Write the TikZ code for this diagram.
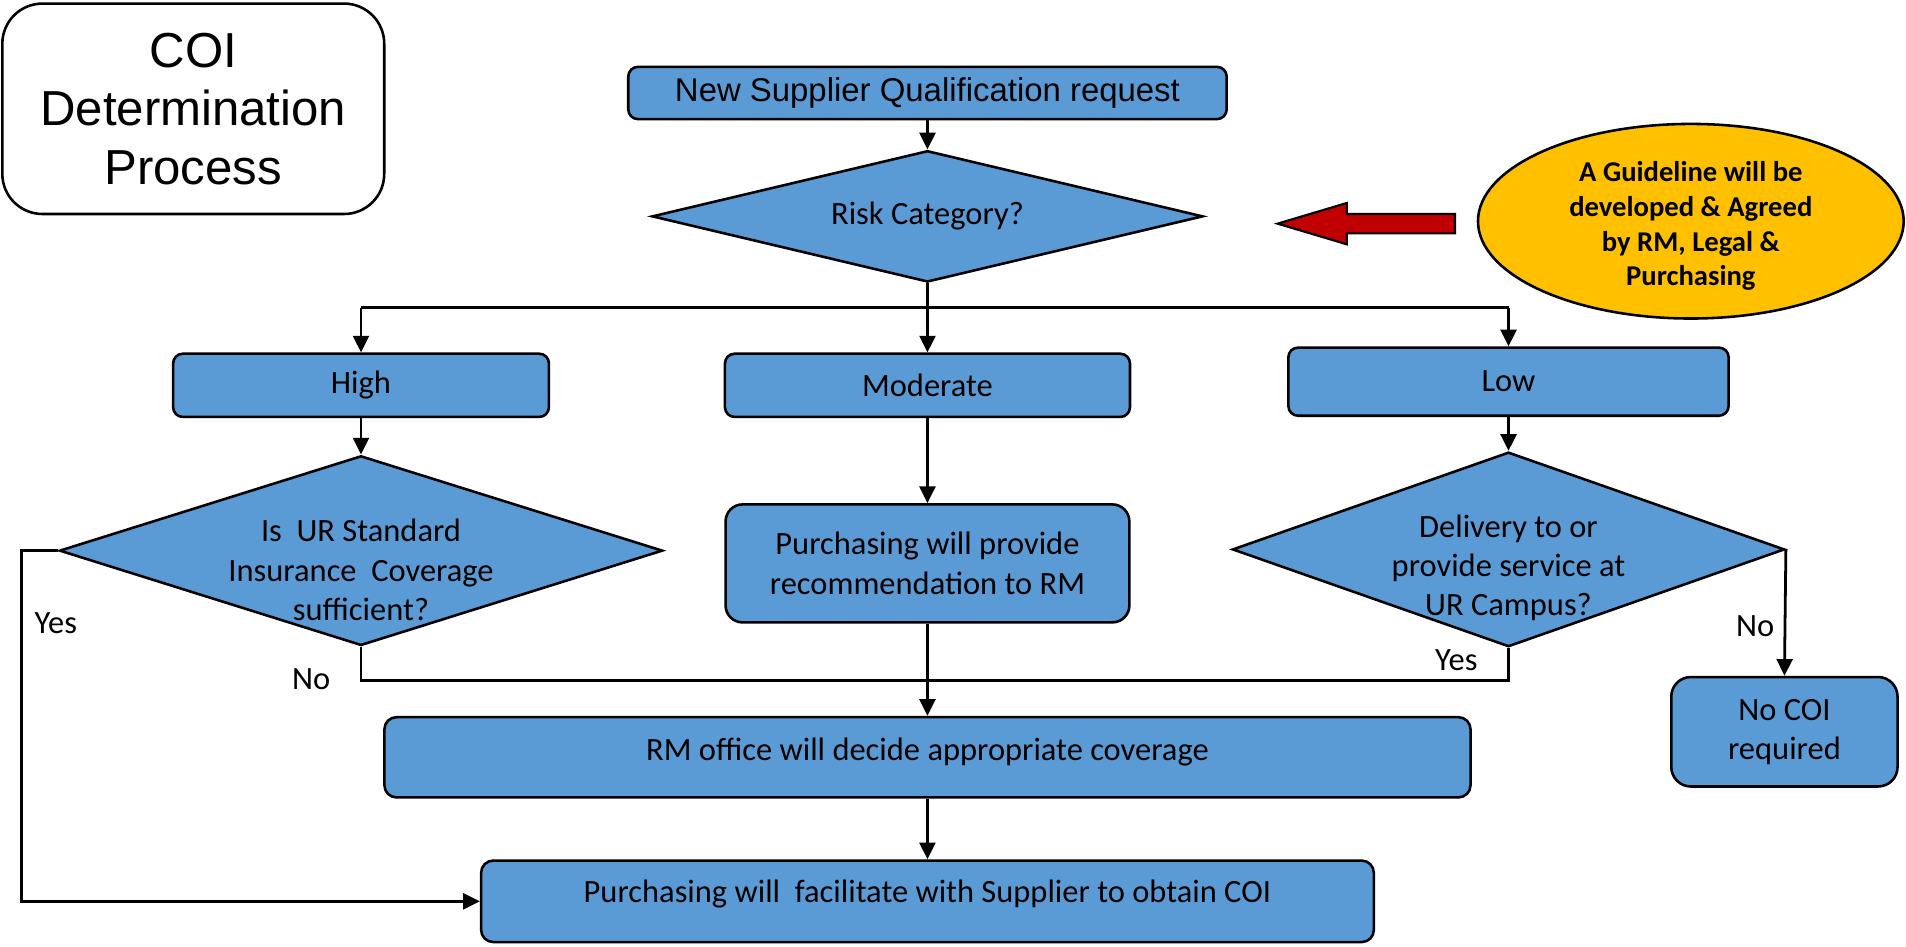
\documentclass[tikz,border=0pt]{standalone}
\usepackage{fontspec}
\setmainfont{Carlito}
\newfontfamily\arialfont{Liberation Sans}
\usetikzlibrary{shapes.geometric,arrows.meta}
\definecolor{boxblue}{HTML}{5B9BD5}
\definecolor{guideyellow}{HTML}{FFC000}
\definecolor{arrowred}{HTML}{C00000}

\begin{document}
\begin{tikzpicture}[x=0.01cm, y=-0.01cm,
    box/.style={draw=black, fill=boxblue, rounded corners=0.08cm, line width=0.6pt,
        align=center, inner sep=0pt, font=\fontsize{7.6}{9.2}\selectfont},
    dia/.style={draw=black, fill=boxblue, diamond, aspect=4, line width=0.6pt, inner sep=0pt},
    txt/.style={align=center, inner sep=0pt, font=\fontsize{7.6}{9.2}\selectfont},
    arr/.style={line width=0.65pt, -{Triangle[length=3.9pt,width=3.7pt]}},
    line/.style={line width=0.65pt}]
    \useasboundingbox (0,0) rectangle (1568,779);

    \node[box, fill=white, rounded corners=0.33cm, minimum width=3.14cm, minimum height=1.73cm,
        font=\arialfont\fontsize{11.5}{13.7}\selectfont] (title) at (159,89.5) {COI\\Determination\\Process};
    \node[box, minimum width=4.92cm, minimum height=0.43cm,
        font=\arialfont\fontsize{7.7}{9.2}\selectfont] (newsup) at (763,76.5) {New Supplier Qualification request};
    \node[dia, txt, draw=black, fill=boxblue, minimum width=4.53cm, minimum height=1.08cm] (risk) at (763,178) {Risk Category?};

    \node[box, minimum width=3.09cm, minimum height=0.52cm] (high) at (297,317) {High};
    \node[box, minimum width=3.33cm, minimum height=0.52cm] (moderate) at (763,317) {Moderate};
    \node[box, minimum width=3.62cm, minimum height=0.56cm] (low) at (1241,314) {Low};

    \node[dia, minimum width=4.96cm, minimum height=1.56cm] (isur) at (297,453) {};
    \node[txt] (isurtxt) at ([yshift=-0.16cm]isur.center) {Is~~UR Standard\\Insurance~~Coverage\\sufficient?};
    \node[box, rounded corners=0.14cm, minimum width=3.32cm, minimum height=0.97cm] (purprov) at (763,463.5) {Purchasing will provide\\recommendation to RM};
    \node[dia, minimum width=4.54cm, minimum height=1.6cm] (deliv) at (1241,452) {};
    \node[txt] (delivtxt) at ([yshift=-0.15cm]deliv.center) {Delivery to or\\provide service at\\UR Campus?};

    \node[box, rounded corners=0.16cm, minimum width=1.86cm, minimum height=0.9cm] (nocoi) at (1468,602) {No COI\\required};
    \node[box, rounded corners=0.1cm, minimum width=8.93cm, minimum height=0.66cm] (rmoff) at (763,623) {\raisebox{0.14cm}{RM office will decide appropriate coverage}};
    \node[box, rounded corners=0.1cm, minimum width=7.34cm, minimum height=0.67cm] (facil) at (763,741.5) {\raisebox{0.17cm}{Purchasing will~~facilitate with Supplier to obtain COI}};

    \node[ellipse, draw=black, fill=guideyellow, line width=0.6pt, minimum width=3.5cm, minimum height=1.6cm,
        inner sep=0pt, align=center, font=\bfseries\fontsize{6.7}{8.1}\selectfont] (guide) at (1391,182) {};
    \node[txt, font=\bfseries\fontsize{6.7}{8.1}\selectfont] (guidetxt) at (1391,186) {A Guideline will be\\developed \& Agreed\\by RM, Legal \&\\Purchasing};
    \filldraw[fill=arrowred, draw=black, line width=0.5pt] (1197,176) -- (1108,176) -- (1108,167) -- (1051,184)
        -- (1108,201) -- (1108,192) -- (1197,192) -- cycle;

    \foreach \a/\b in {newsup/risk, risk/moderate, high/isur, moderate/purprov, low/deliv, purprov/rmoff, rmoff/facil}{
        \draw[arr] (\a.south) -- (\b.north);
    }

    \coordinate (split) at (763,253);
    \draw[line] (high.north |- split) -- (low.north |- split);
    \draw[arr] (high.north |- split) -- (high.north);
    \draw[arr] (low.north |- split) -- (low.north);

    \coordinate (join) at (763,560);
    \draw[line] (isur.south) -- (isur.south |- join) -- (deliv.south |- join) -- (deliv.south);
    \node[txt] (no1) at (256,559) {No};
    \node[txt] (yes1) at (1198,543) {Yes};

    \coordinate (yesturn) at (18,453);
    \draw[arr] (isur.west) -- (yesturn) |- (facil.west);
    \node[txt] (yes2) at (46,513) {Yes};

    \draw[arr] (deliv.east) -- (nocoi.north);
    \node[txt] (no2) at (1444,515) {No};
\end{tikzpicture}
\end{document}
